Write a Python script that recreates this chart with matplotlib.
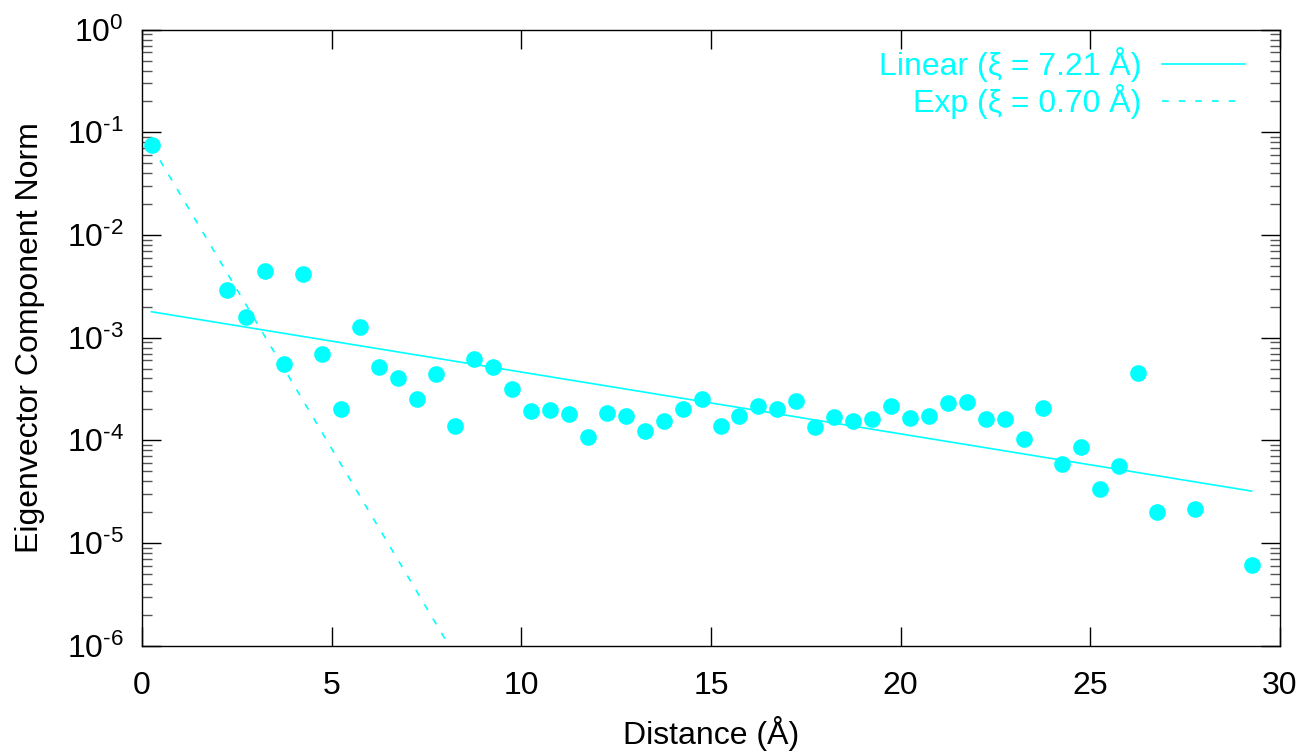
import matplotlib
matplotlib.use('Agg')
import matplotlib.pyplot as plt
import matplotlib.ticker as mticker
import numpy as np

plt.rcParams['font.family'] = ['Liberation Sans', 'DejaVu Sans']
plt.rcParams['mathtext.fontset'] = 'custom'
plt.rcParams['mathtext.rm'] = 'Liberation Sans'
plt.rcParams['mathtext.default'] = 'regular'
plt.rcParams['axes.unicode_minus'] = False

# 距离 (Å) 与对应本征矢分量范数
distance = [0.25, 2.25, 2.75, 3.25, 3.75, 4.25, 4.75, 5.25, 5.75, 6.25,
            6.75, 7.25, 7.75, 8.25, 8.75, 9.25, 9.75, 10.25, 10.75, 11.25,
            11.75, 12.25, 12.75, 13.25, 13.75, 14.25, 14.75, 15.25, 15.75, 16.25,
            16.75, 17.25, 17.75, 18.25, 18.75, 19.25, 19.75, 20.25, 20.75, 21.25,
            21.75, 22.25, 22.75, 23.25, 23.75, 24.25, 24.75, 25.25, 25.75, 26.25,
            26.75, 27.75, 29.25]
norm = [7.5e-2, 2.88e-3, 1.58e-3, 4.48e-3, 5.48e-4, 4.16e-3, 6.86e-4, 2.02e-4, 1.26e-3, 5.19e-4,
        4.0e-4, 2.5e-4, 4.41e-4, 1.38e-4, 6.17e-4, 5.13e-4, 3.17e-4, 1.92e-4, 1.96e-4, 1.80e-4,
        1.08e-4, 1.84e-4, 1.71e-4, 1.24e-4, 1.54e-4, 2.02e-4, 2.5e-4, 1.39e-4, 1.71e-4, 2.15e-4,
        2.04e-4, 2.39e-4, 1.34e-4, 1.67e-4, 1.55e-4, 1.63e-4, 2.17e-4, 1.64e-4, 1.73e-4, 2.3e-4,
        2.34e-4, 1.62e-4, 1.62e-4, 1.04e-4, 2.07e-4, 5.89e-5, 8.63e-5, 3.39e-5, 5.63e-5, 4.48e-4,
        1.99e-5, 2.12e-5, 6.16e-6]

# 拟合参数
xi_lin, amp_lin = 7.21, 1.85e-3
xi_exp, amp_exp = 0.70, 0.105

cyan = '#00ffff'


def decade_label(v, pos):
    e = int(round(np.log10(v)))
    if e < 0:
        return r'$10^{\text{-}%d}$' % (-e)
    return r'$10^{%d}$' % e


fig = plt.figure(figsize=(13.15, 7.53), dpi=100)
ax = fig.add_axes([0.108, 0.1426, 0.8654, 0.818])

xf = np.linspace(distance[0], distance[-1], 400)
ax.plot(xf, amp_lin * np.exp(-xf / xi_lin), color=cyan, lw=1.2,
        label='Linear (ξ = 7.21 Å)')
ax.plot(xf, amp_exp * np.exp(-xf / xi_exp), color=cyan, lw=1.2,
        ls=(0, (4, 6)), label='Exp (ξ = 0.70 Å)')
ax.plot(distance, norm, 'o', color=cyan, ms=12, mec='none', zorder=5)

ax.set_yscale('log')
ax.set_xlim(0, 30)
ax.set_ylim(1e-6, 1)
ax.xaxis.set_major_locator(mticker.MultipleLocator(5))
ax.yaxis.set_major_locator(mticker.LogLocator(base=10, numticks=10))
ax.yaxis.set_major_formatter(mticker.FuncFormatter(decade_label))
ax.yaxis.set_minor_locator(mticker.LogLocator(base=10, subs=np.arange(2, 10), numticks=10))
ax.yaxis.set_minor_formatter(mticker.NullFormatter())

ax.tick_params(which='major', direction='in', length=14, width=1,
               top=True, right=True, labelsize=23)
ax.tick_params(axis='x', which='major', pad=18)
ax.tick_params(axis='y', which='major', pad=13)
ax.tick_params(which='minor', direction='in', length=7, width=1,
               right=True, color='#555555')
for sp in ax.spines.values():
    sp.set_linewidth(1)

ax.set_xlabel('Distance (Å)', fontsize=23, labelpad=11)
ax.set_ylabel('Eigenvector Component Norm', fontsize=23, labelpad=16)

ax.legend(loc='upper right', frameon=False, markerfirst=False, fontsize=23,
          labelcolor=cyan, handlelength=2.6, handletextpad=0.65,
          labelspacing=0.05, borderaxespad=0.15, bbox_to_anchor=(0.985, 1.0))

fig.savefig('out.png', dpi=100, facecolor='white')
